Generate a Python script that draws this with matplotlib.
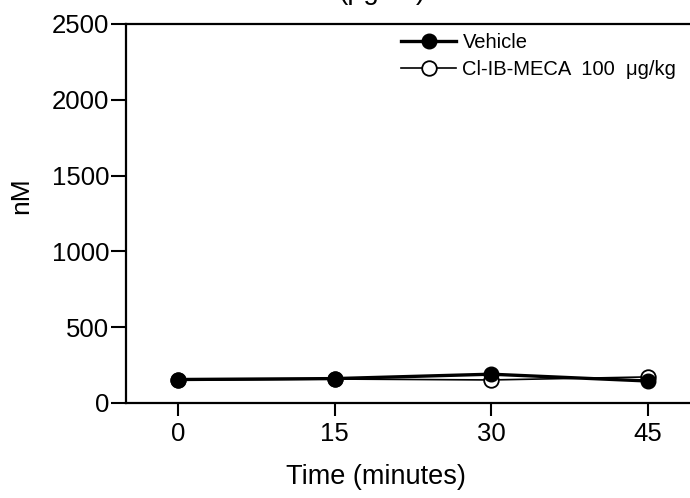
import matplotlib
matplotlib.use('Agg')
import matplotlib.pyplot as plt

plt.rcParams['font.family'] = ['Liberation Sans', 'DejaVu Sans']

# data
time_min = [0, 15, 30, 45]
vehicle = [155, 161, 190, 145]
clib_meca = [150, 158, 152, 172]
labels = ['Vehicle', 'Cl-IB-MECA  100  \u03bcg/kg']

fig = plt.figure(figsize=(6.9, 4.98), dpi=100)
ax = fig.add_axes([126 / 690, 1 - 403 / 498, (700 - 126) / 690, (403 - 24) / 498])

ax.plot(time_min, vehicle, color='black', lw=2.4, marker='o', ms=10.5,
        mfc='black', mec='black', label=labels[0], zorder=3)
ax.plot(time_min, clib_meca, color='black', lw=1.2, marker='o', ms=10.5,
        mfc='white', mec='black', mew=1.3, label=labels[1], zorder=2)

ax.set_xlim(-5, 50)
ax.set_ylim(0, 2500)
ax.set_xticks(time_min)
ax.set_yticks([0, 500, 1000, 1500, 2000, 2500])
ax.tick_params(labelsize=18.5, width=1.5, color='black')
ax.tick_params(axis='y', length=10.5, pad=1.5)
ax.tick_params(axis='x', length=9, pad=5)
for s in ax.spines.values():
    s.set_linewidth(1.6)

fig.text(376 / 690, 1 - 477 / 498, 'Time (minutes)', fontsize=19.5,
         ha='center', va='center')
fig.text(21 / 690, 1 - 196 / 498, 'nM', rotation=90, fontsize=19,
         ha='center', va='center')

# title, mostly cropped off the top
fig.text(382 / 690, 1 + 1 / 498, '(\u03bcg/ml)', fontsize=20,
         ha='center', va='baseline')

ax.legend(loc='upper left', bbox_to_anchor=(401 / 690, 1 - 33 / 498),
          bbox_transform=fig.transFigure, frameon=False, fontsize=14.5,
          handlelength=2.75, handletextpad=0.3, labelspacing=0.4,
          borderpad=0, borderaxespad=0)

fig.savefig('out.png', dpi=100)
